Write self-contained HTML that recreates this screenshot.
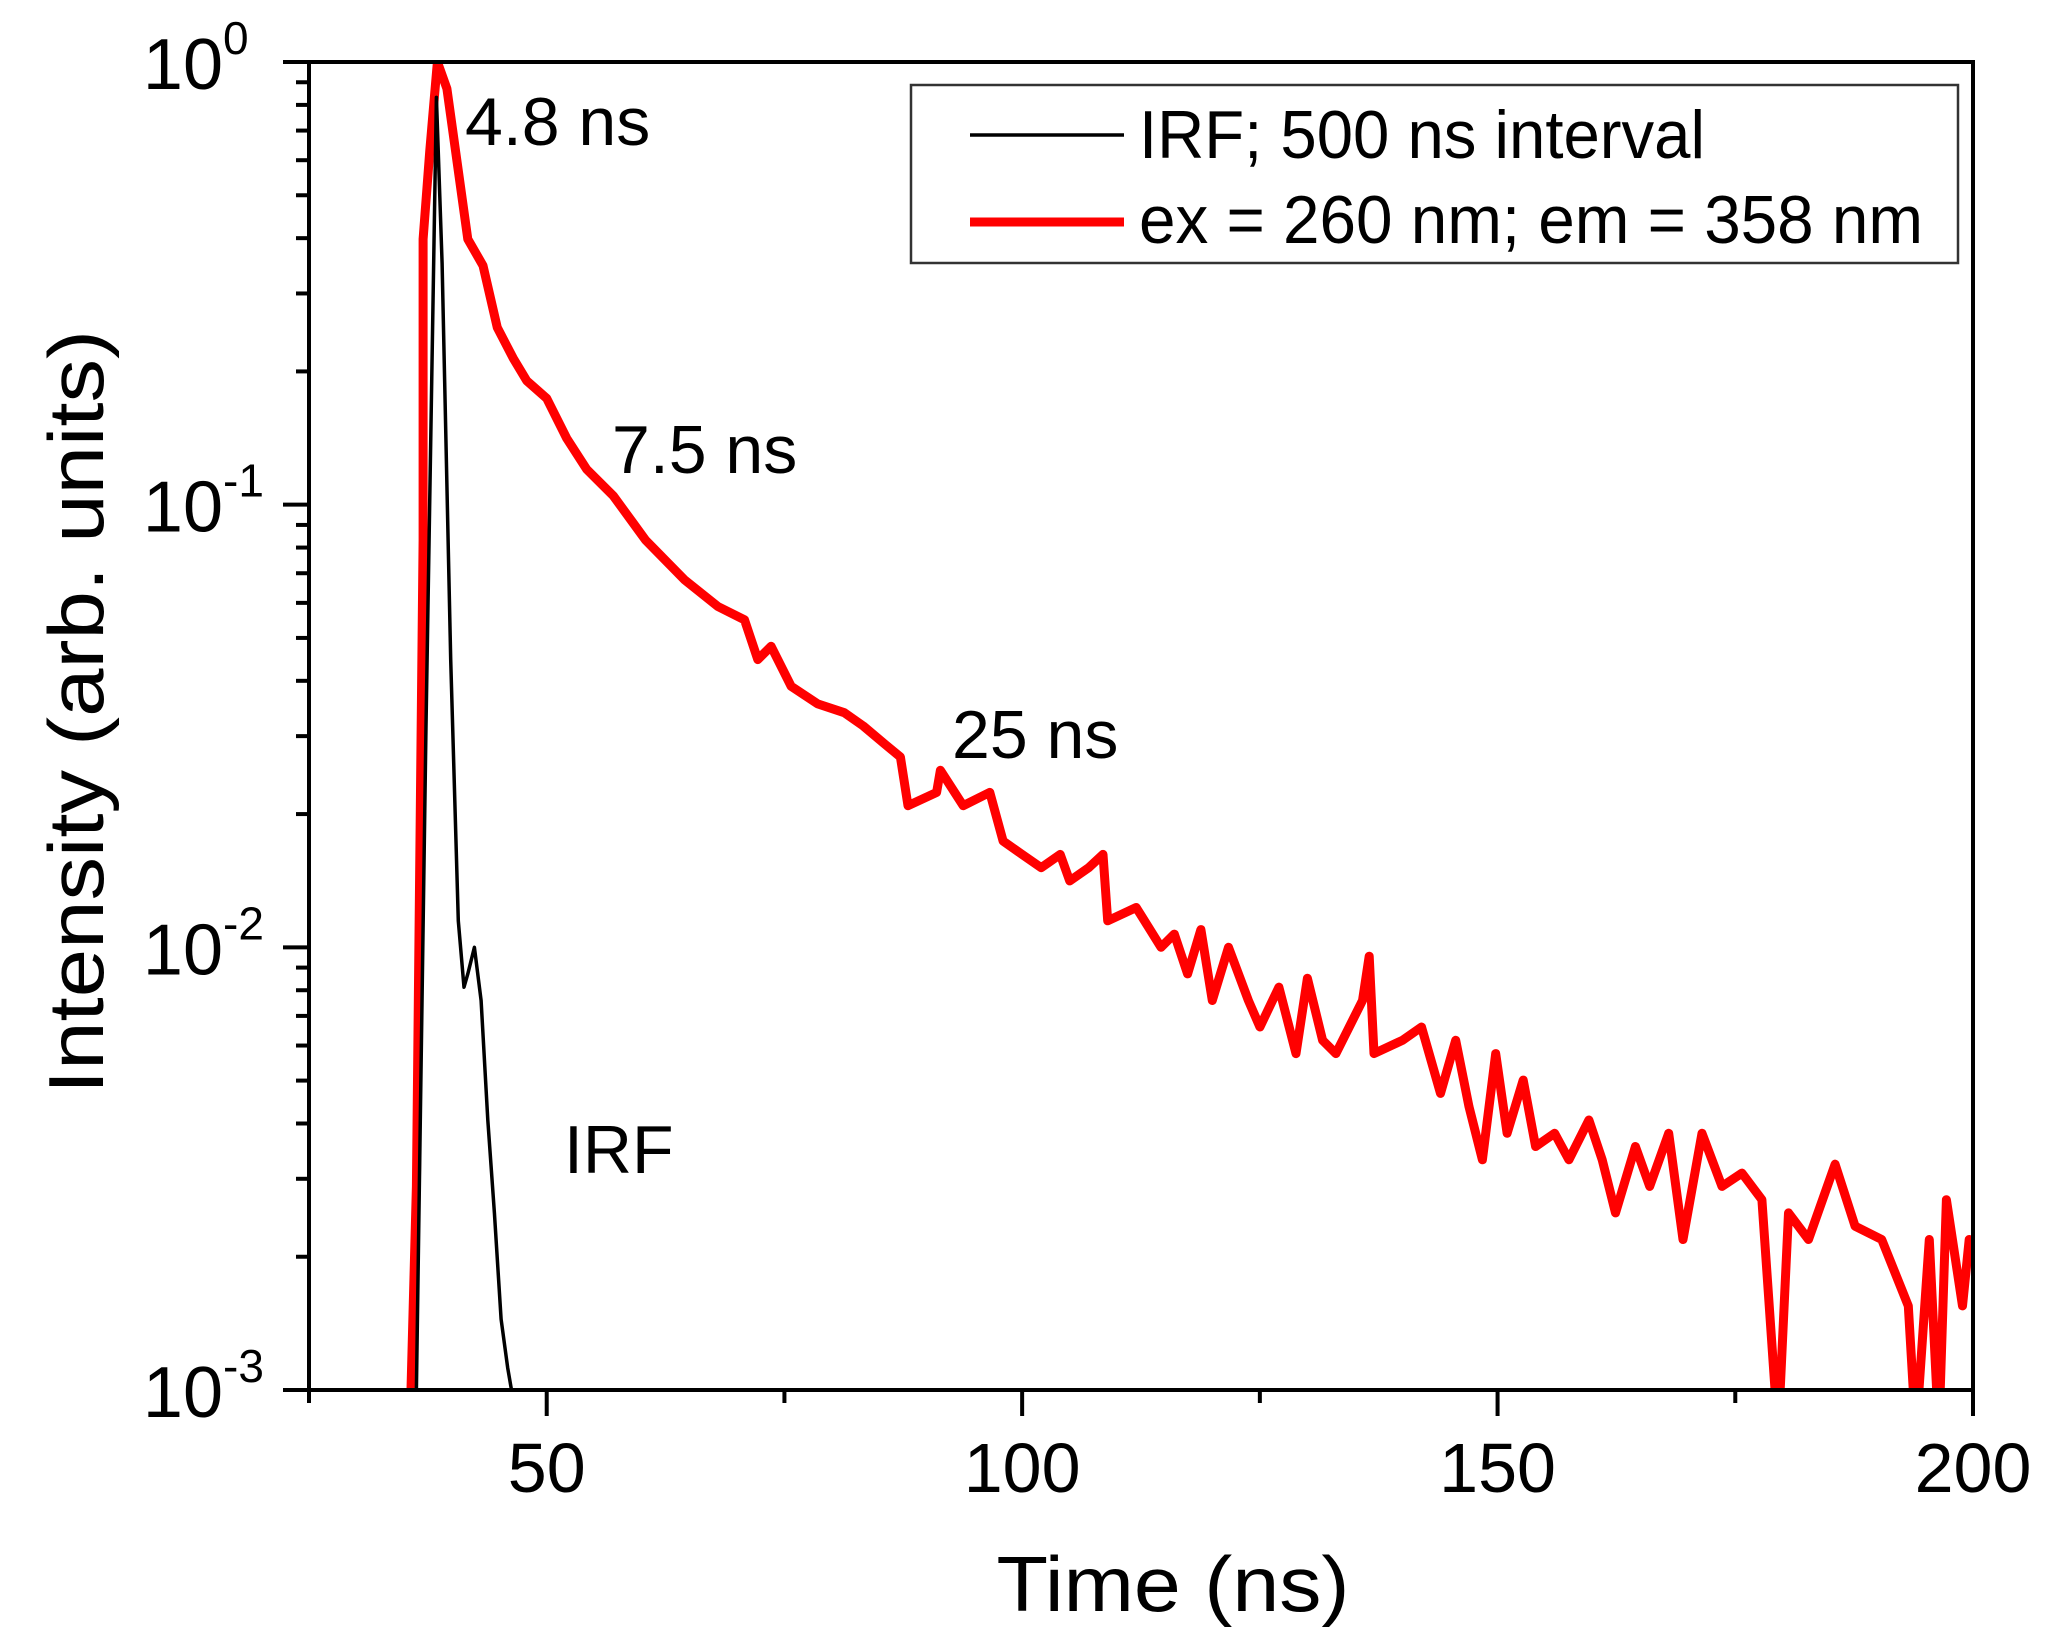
<!DOCTYPE html>
<html><head><meta charset="utf-8"><style>
html,body{margin:0;padding:0;background:#fff;}
svg{display:block;font-family:"Liberation Sans",Arial,sans-serif;}
</style></head><body>
<svg id="chart" width="2056" height="1644" viewBox="0 0 2056 1644" xmlns="http://www.w3.org/2000/svg">
<defs><clipPath id="plotclip"><rect x="309" y="62" width="1664" height="1328"/></clipPath></defs>
<g id="series" clip-path="url(#plotclip)"></g>
<g id="axes"></g>
<g id="labels"></g>
</svg>
<script>
// ---- data ----
var redT = [35.6,36.3,37.0,37.0,37.7,38.5,39.5,41.7,43.3,44.8,46.5,47.9,50,52.1,54.2,57,60.4,64.5,68,70.8,72.2,73.6,75.7,78.5,81.3,83.3,85.5,87.2,88,91,91.4,93.8,96.6,98,100,102,104,105,107,108.5,109,112,114.6,116,117.4,118.8,120,121.7,123.8,125,127,128.8,130,131.6,133,135.8,136.5,137,140,142,144,145.6,147,148.4,149.8,151,152.7,154,156,157.5,159.6,161,162.4,164.5,166,168,169.5,171.5,173.6,175.7,177.8,179.5,180.6,182.7,185.5,187.6,190.4,193.2,194,195.4,196.4,197.2,198.9,199.6,200];
var redLog = [-3.1,-2.54,-1.08,-0.4,-0.2,0,-0.06,-0.40,-0.46,-0.60,-0.67,-0.72,-0.76,-0.85,-0.92,-0.98,-1.08,-1.17,-1.23,-1.26,-1.35,-1.32,-1.41,-1.45,-1.47,-1.50,-1.54,-1.57,-1.68,-1.65,-1.60,-1.68,-1.65,-1.76,-1.79,-1.82,-1.79,-1.85,-1.82,-1.79,-1.94,-1.91,-2.0,-1.97,-2.06,-1.96,-2.12,-2.0,-2.12,-2.18,-2.09,-2.24,-2.07,-2.21,-2.24,-2.12,-2.02,-2.24,-2.21,-2.18,-2.33,-2.21,-2.36,-2.48,-2.24,-2.42,-2.30,-2.45,-2.42,-2.48,-2.39,-2.48,-2.60,-2.45,-2.54,-2.42,-2.66,-2.42,-2.54,-2.51,-2.57,-3.1,-2.60,-2.66,-2.49,-2.63,-2.66,-2.81,-3.1,-2.66,-3.1,-2.57,-2.81,-2.66,-2.72];
var irfT = [36.3,37.3,38.0,38.4,39.0,39.9,40.7,41.3,41.7,42.4,43.1,43.8,44.5,45.2,45.9,46.3];
var irfLog = [-3.0,-1.5,-0.6,-0.08,-0.455,-1.35,-1.94,-2.09,-2.06,-2.0,-2.12,-2.39,-2.6,-2.84,-2.95,-3.0];
var xTicks = [50,100,150,200];
var xTickLabels = ["50","100","150","200"];
var xMinor = [25,75,125,175];
var yDecades = [0,-1,-2,-3];
var yTickExps = ["0","-1","-2","-3"];

// ---- axes functions ----
var X0=309, X1=1973, Y0=62, Y1=1390, TMIN=25, TMAX=200, LMIN=-3, LMAX=0;
function xs(t){return X0+(t-TMIN)/(TMAX-TMIN)*(X1-X0);}
function ys(l){return Y0+(LMAX-l)/(LMAX-LMIN)*(Y1-Y0);}
var NS="http://www.w3.org/2000/svg";
function mk(tag,attrs,parent){var e=document.createElementNS(NS,tag);for(var k in attrs)e.setAttribute(k,attrs[k]);parent.appendChild(e);return e;}
var series=document.getElementById('series'),axes=document.getElementById('axes'),labels=document.getElementById('labels');

function pathFrom(T,L){var d='';for(var i=0;i<T.length;i++){d+=(i?'L':'M')+xs(T[i]).toFixed(1)+','+ys(L[i]).toFixed(1);}return d;}
var red=mk('path',{d:pathFrom(redT,redLog),fill:'none',stroke:'#ff0000','stroke-width':9,'stroke-linejoin':'round'},series);


var irf=mk('path',{d:pathFrom(irfT,irfLog),fill:'none',stroke:'#000','stroke-width':3.5,'stroke-linejoin':'round'},series);



// frame
var frame=mk('rect',{x:X0,y:Y0,width:X1-X0,height:Y1-Y0,fill:'none',stroke:'#000','stroke-width':4},axes);



// x ticks
xTicks.forEach(function(t,i){
  var x=xs(t);
  var tk=mk('line',{x1:x,y1:Y1,x2:x,y2:Y1+26,stroke:'#000','stroke-width':4},axes);
  
  
  var tl=mk('text',{x:x,y:1492,'font-size':70,'text-anchor':'middle',fill:'#000'},labels);
  tl.textContent=xTickLabels[i];
  
  
});
xMinor.forEach(function(t){
  var x=xs(t);
  var tk=mk('line',{x1:x,y1:Y1,x2:x,y2:Y1+13,stroke:'#000','stroke-width':4},axes);
  
  
});
// y ticks
yDecades.forEach(function(l,i){
  var y=ys(l);
  var tk=mk('line',{x1:X0-26,y1:y,x2:X0,y2:y,stroke:'#000','stroke-width':4},axes);
  
  
  var tl=mk('text',{x:223,y:y+27,'font-size':72,'text-anchor':'end',fill:'#000'},labels);
  tl.textContent='10';
  
  
  var sp=mk('text',{x:223,y:y-8,'font-size':46,'text-anchor':'start',fill:'#000'},labels);
  sp.textContent=yTickExps[i];
  
  
  if(l>LMIN){for(var m=2;m<=9;m++){
    var ym=ys(l-1+Math.log10(m));
    var mt=mk('line',{x1:X0-13,y1:ym,x2:X0,y2:ym,stroke:'#000','stroke-width':4},axes);
    
    
  }}
});

// axis titles
var xt=mk('text',{x:1173,y:1611,'font-size':78,'text-anchor':'middle',fill:'#000',textLength:353,lengthAdjust:'spacingAndGlyphs'},labels);
xt.textContent='Time (ns)';


var yt=mk('text',{x:0,y:0,'font-size':78,'text-anchor':'middle',fill:'#000',transform:'translate(103,712) rotate(-90)',textLength:764,lengthAdjust:'spacingAndGlyphs'},labels);
yt.textContent='Intensity (arb. units)';



// annotations
[['4.8 ns',465,145,'annotation-4-8ns'],['7.5 ns',612,473,'annotation-7-5ns'],['25 ns',952,758,'annotation-25ns'],['IRF',564,1173,'annotation-irf']].forEach(function(a){
  var t=mk('text',{x:a[1],y:a[2],'font-size':68,fill:'#000'},labels);
  t.textContent=a[0];
  
  
});

// legend
var lg=mk('g',{},labels);


mk('rect',{x:911,y:85,width:1047,height:178,fill:'#fff',stroke:'#333','stroke-width':2.5},lg);
var l1=mk('line',{x1:970,y1:135,x2:1124,y2:135,stroke:'#000','stroke-width':3.5},lg);


var t1=mk('text',{x:1139,y:158,'font-size':68,fill:'#000',textLength:566,lengthAdjust:'spacingAndGlyphs'},lg);
t1.textContent='IRF; 500 ns interval';


var l2=mk('line',{x1:970,y1:222,x2:1124,y2:222,stroke:'#ff0000','stroke-width':9},lg);


var t2=mk('text',{x:1139,y:243,'font-size':68,fill:'#000',textLength:784,lengthAdjust:'spacingAndGlyphs'},lg);
t2.textContent='ex = 260 nm; em = 358 nm';


</script>
</body></html>
